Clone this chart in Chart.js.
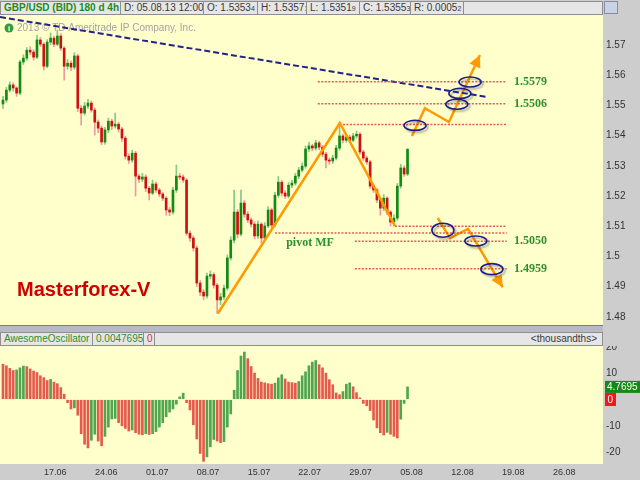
<!DOCTYPE html>
<html>
<head>
<meta charset="UTF-8">
<title>GBP/USD (BID) 180 d 4h</title>
<script src="https://cdn.jsdelivr.net/npm/chart.js"></script>
<style>
  body {
    margin: 0;
    width: 640px;
    height: 480px;
    position: relative;
    overflow: hidden;
    background: #cdcdcd;
    font-family: "Liberation Sans", Arial, sans-serif;
  }
  .strip {
    position: absolute;
    left: 0;
    width: 603px;
    height: 14px;
    box-sizing: border-box;
    background: #e6e6e6;
    border: 1px solid #8e8e8e;
    display: flex;
    font-size: 10px;
    line-height: 12px;
    color: #3a3a3a;
    z-index: 2;
  }
  .strip span {
    border-right: 1px solid #8e8e8e;
    padding-left: 3px;
    box-sizing: border-box;
    white-space: nowrap;
    overflow: hidden;
  }
  .strip small { font-size: 7px; }
  #head { top: 1px; }
  #oschead { top: 332px; }
  #pricebox { position: absolute; left: 0; top: 14px; width: 640px; height: 311px; }
  #oscbox { position: absolute; left: 0; top: 346px; width: 640px; height: 134px; }
  #split {
    position: absolute; left: 0; top: 325px; width: 603px; height: 7px;
    background: #b7bac4; border-top: 1px solid #7c7c84; box-sizing: border-box;
  }
  #icon {
    position: absolute; left: 604px; top: 1px; width: 14px; height: 13px;
    border: 1px solid #8a8aa8; background: #c9d3e6; box-sizing: border-box;
  }
</style>
</head>
<body>

<div id="head" class="strip">
  <span style="width:120px;color:#1c8c1c;font-weight:bold;">GBP/USD (BID) 180 d 4h</span>
  <span style="width:83px;">D: 05.08.13 12:00</span>
  <span style="width:54px;">O: 1.5353<small>4</small></span>
  <span style="width:49px;">H: 1.5357<small>1</small></span>
  <span style="width:53px;">L: 1.5351<small>9</small></span>
  <span style="width:51px;">C: 1.5355<small>3</small></span>
  <span style="width:53px;">R: 0.0005<small>2</small></span>
</div>
<div id="icon"></div>

<div id="pricebox"><canvas id="price" width="640" height="311"></canvas></div>
<div id="split"></div>

<div id="oschead" class="strip">
  <span style="width:92px;color:#2f8f2f;">AwesomeOscillator</span>
  <span style="width:51px;color:#2f8f2f;">0.0047695</span>
  <span style="width:11px;color:#e03030;">0</span>
  <span style="flex:1;border-right:none;text-align:right;padding-right:5px;">&lt;thousandths&gt;</span>
</div>

<div id="oscbox"><canvas id="osc" width="640" height="134"></canvas></div>

<script>
  // 8h bars, index 0..119
  const open = [1.5505,1.5518,1.5551,1.5568,1.5558,1.5541,1.5644,1.5657,1.5683,1.5677,
    1.5660,1.5717,1.5703,1.5630,1.5710,1.5723,1.5703,1.5730,1.5690,1.5630,
    1.5640,1.5627,1.5664,1.5491,1.5475,1.5498,1.5508,1.5485,1.5445,1.5425,
    1.5379,1.5419,1.5448,1.5432,1.5438,1.5422,1.5392,1.5332,1.5319,1.5342,
    1.5266,1.5256,1.5263,1.5226,1.5210,1.5240,1.5220,1.5207,1.5193,1.5154,
    1.5147,1.5220,1.5266,1.5263,1.5253,1.5077,1.5061,1.5028,1.4912,1.4882,
    1.4869,1.4935,1.4940,1.4905,1.4856,1.4866,1.4895,1.4995,1.5054,1.5147,
    1.5074,1.5177,1.5140,1.5121,1.5107,1.5068,1.5107,1.5061,1.5101,1.5154,
    1.5104,1.5203,1.5246,1.5210,1.5200,1.5236,1.5243,1.5266,1.5286,1.5299,
    1.5356,1.5366,1.5359,1.5376,1.5362,1.5339,1.5319,1.5316,1.5326,1.5359,
    1.5399,1.5385,1.5395,1.5385,1.5399,1.5405,1.5346,1.5326,1.5313,1.5233,
    1.5220,1.5187,1.5160,1.5193,1.5147,1.5114,1.5127,1.5233,1.5293,1.5273];
  const close = [1.5518,1.5551,1.5568,1.5558,1.5541,1.5644,1.5657,1.5683,1.5677,1.5660,
    1.5717,1.5703,1.5630,1.5710,1.5723,1.5703,1.5730,1.5690,1.5630,1.5640,
    1.5627,1.5664,1.5491,1.5475,1.5498,1.5508,1.5485,1.5445,1.5425,1.5379,
    1.5419,1.5448,1.5432,1.5438,1.5422,1.5392,1.5332,1.5319,1.5342,1.5266,
    1.5256,1.5263,1.5226,1.5210,1.5240,1.5220,1.5207,1.5193,1.5154,1.5147,
    1.5220,1.5266,1.5263,1.5253,1.5077,1.5061,1.5028,1.4912,1.4882,1.4869,
    1.4935,1.4940,1.4905,1.4856,1.4866,1.4895,1.4995,1.5054,1.5147,1.5074,
    1.5177,1.5140,1.5121,1.5107,1.5068,1.5107,1.5061,1.5101,1.5154,1.5104,
    1.5203,1.5246,1.5210,1.5200,1.5236,1.5243,1.5266,1.5286,1.5299,1.5356,
    1.5366,1.5359,1.5376,1.5362,1.5339,1.5319,1.5316,1.5326,1.5359,1.5399,
    1.5385,1.5395,1.5385,1.5399,1.5405,1.5346,1.5326,1.5313,1.5233,1.5220,
    1.5187,1.5160,1.5193,1.5147,1.5114,1.5127,1.5233,1.5293,1.5273,1.5355];
  const high = [1.5530,1.5560,1.5578,1.5575,1.5562,1.5650,1.5668,1.5692,1.5695,1.5685,
    1.5733,1.5725,1.5708,1.5718,1.5740,1.5730,1.5750,1.5738,1.5695,1.5652,
    1.5648,1.5675,1.5670,1.5500,1.5510,1.5520,1.5515,1.5492,1.5452,1.5432,
    1.5428,1.5458,1.5455,1.5475,1.5445,1.5428,1.5398,1.5340,1.5352,1.5348,
    1.5272,1.5275,1.5270,1.5232,1.5253,1.5246,1.5226,1.5212,1.5198,1.5162,
    1.5230,1.5303,1.5275,1.5270,1.5258,1.5085,1.5068,1.5035,1.4920,1.4890,
    1.4945,1.4952,1.4946,1.4910,1.4878,1.4905,1.5005,1.5065,1.5220,1.5155,
    1.5220,1.5185,1.5148,1.5128,1.5115,1.5118,1.5112,1.5112,1.5165,1.5160,
    1.5212,1.5265,1.5252,1.5218,1.5245,1.5252,1.5275,1.5295,1.5310,1.5366,
    1.5378,1.5372,1.5385,1.5382,1.5368,1.5345,1.5326,1.5335,1.5368,1.5442,
    1.5405,1.5405,1.5402,1.5408,1.5415,1.5410,1.5352,1.5332,1.5318,1.5240,
    1.5226,1.5195,1.5205,1.5198,1.5152,1.5138,1.5242,1.5305,1.5300,1.5357];
  const low = [1.5490,1.5510,1.5545,1.5548,1.5530,1.5536,1.5636,1.5650,1.5668,1.5650,
    1.5655,1.5695,1.5617,1.5625,1.5702,1.5695,1.5698,1.5682,1.5584,1.5620,
    1.5615,1.5620,1.5480,1.5435,1.5468,1.5490,1.5478,1.5402,1.5410,1.5370,
    1.5372,1.5410,1.5420,1.5425,1.5412,1.5380,1.5322,1.5308,1.5312,1.5200,
    1.5245,1.5248,1.5215,1.5187,1.5205,1.5212,1.5198,1.5185,1.5137,1.5135,
    1.5140,1.5212,1.5255,1.5245,1.5070,1.5050,1.5018,1.4900,1.4870,1.4856,
    1.4862,1.4925,1.4895,1.4811,1.4840,1.4858,1.4888,1.4988,1.5045,1.5062,
    1.5068,1.5130,1.5112,1.5098,1.5058,1.5060,1.5045,1.5055,1.5095,1.5095,
    1.5098,1.5196,1.5200,1.5192,1.5194,1.5228,1.5236,1.5258,1.5280,1.5292,
    1.5348,1.5350,1.5352,1.5354,1.5330,1.5293,1.5305,1.5308,1.5320,1.5352,
    1.5376,1.5378,1.5378,1.5380,1.5392,1.5338,1.5318,1.5305,1.5225,1.5212,
    1.5178,1.5137,1.5152,1.5138,1.5101,1.5100,1.5120,1.5226,1.5265,1.5268];

  // Awesome Oscillator, thousandths
  const ao = [13.4,12.8,11.8,11.0,11.2,12.0,12.7,12.5,11.6,10.8,
    10.2,9.0,8.3,7.2,7.6,6.6,6.0,4.5,2.0,-1.2,
    -3.6,-3.2,-6.0,-13.0,-17.0,-18.4,-15.5,-13.2,-15.8,-17.6,
    -14.0,-10.5,-7.4,-7.2,-8.8,-10.0,-11.0,-12.0,-11.6,-12.6,
    -13.2,-13.4,-13.0,-13.3,-13.0,-12.2,-10.5,-8.8,-6.6,-4.8,
    -3.6,-1.8,1.0,2.4,-1.2,-4.0,-9.6,-15.0,-20.5,-23.5,
    -21.8,-18.0,-15.2,-15.8,-16.4,-16.0,-10.5,-5.5,3.5,11.0,
    16.5,18.0,15.5,12.5,10.0,8.0,6.6,6.3,6.0,5.8,
    6.2,8.2,9.4,7.8,6.6,6.4,6.2,6.8,9.0,10.5,
    12.8,14.2,14.8,13.2,12.0,10.0,7.5,5.6,2.5,1.8,
    3.0,5.8,6.3,4.8,2.6,0.6,-1.5,-2.4,-4.2,-7.8,
    -10.8,-12.6,-13.5,-12.5,-13.2,-14.0,-14.6,-7.5,-1.5,4.7695];

  const weekLabels = ['17.06','24.06','01.07','08.07','15.07','22.07','29.07','05.08','12.08','19.08','26.08'];
  const weekPos = [15.4, 30.4, 45.4, 60.3, 75.3, 90.2, 105.2, 120.2, 135.2, 150.1, 165.1];

  // drawn analysis
  const trendX = [-0.88, 142.4];
  const trendY = [1.5793, 1.5528];
  const swingX = [63.2, 99.1, 115.3];
  const swingY = [1.4811, 1.5442, 1.5101];
  const upX = [120.3, 124.1, 131.2, 140.3];
  const upY = [1.5399, 1.5491, 1.5445, 1.5667];
  const downX = [127.9, 131.5, 136.8, 147.0];
  const downY = [1.5127, 1.5061, 1.5091, 1.4898];
  const levelPrice = [1.5579, 1.5506, 1.5437, 1.5100, 1.5078, 1.5050, 1.4959];
  const levelFrom = [92.6, 92.6, 100, 115.3, 80, 103.5, 103.5];
  const levelTo = 148.2;
  const labelLevels = [1.5579, 1.5506, 1.5050, 1.4959];
  const labelX = 150.3;
  const ellX = [137.4, 134.4, 133.5, 121.2, 129.4, 139.1, 143.8];
  const ellY = [1.5578, 1.5540, 1.5504, 1.5434, 1.5087, 1.5051, 1.4958];
  const ellRy = [5, 5, 5, 5, 7, 5, 5.5];
  const pivotX = 90.3, pivotY = 1.5044;

  const xMin = -0.88, xMax = 176.5;
  const FONT = '"Liberation Sans", Arial, sans-serif';
  const idx = close.map((c, i) => i);

  const up = i => close[i] >= open[i];
  const pts = (xs, ys) => xs.map((x, i) => ({ x, y: ys[i] }));

  // keep the plot area flush with the canvas edges
  const fitRight = s => { s.width = 37; s.paddingTop = 0; s.paddingBottom = 0; };

  function lineSet(data, color, width, dash) {
    return { type: 'line', data, borderColor: color, borderWidth: width, borderDash: dash || [],
      pointRadius: 0, fill: false, tension: 0, order: 1 };
  }

  const priceDecor = {
    id: 'priceDecor',
    beforeDatasetsDraw(chart) {
      const { ctx, chartArea: a } = chart;
      ctx.save();
      ctx.fillStyle = '#ffffcc';
      ctx.fillRect(a.left, a.top, a.right - a.left, a.bottom - a.top);
      // watermark
      ctx.fillStyle = '#2e9e3e';
      ctx.beginPath(); ctx.arc(9, 14, 4.5, 0, Math.PI * 2); ctx.fill();
      ctx.fillStyle = '#fff';
      ctx.font = 'bold 8px ' + FONT;
      ctx.textAlign = 'center'; ctx.textBaseline = 'middle';
      ctx.fillText('i', 9, 14.5);
      ctx.fillStyle = '#a4a4a4';
      ctx.font = '10px ' + FONT;
      ctx.textAlign = 'left';
      ctx.fillText('2013 \u00a9 TD Ameritrade IP Company, Inc.', 17, 14);
      ctx.fillStyle = '#d00000';
      ctx.font = 'bold 20px ' + FONT;
      ctx.fillText('Masterforex-V', 17, 276);
      ctx.restore();
    },
    afterDatasetsDraw(chart) {
      const { ctx } = chart;
      const sx = chart.scales.x, sy = chart.scales.y;
      ctx.save();
      // arrow heads
      ctx.fillStyle = '#ff9a00';
      [[upX, upY], [downX, downY]].forEach(([xs, ys]) => {
        const n = xs.length;
        const x1 = sx.getPixelForValue(xs[n - 2]), y1 = sy.getPixelForValue(ys[n - 2]);
        const x2 = sx.getPixelForValue(xs[n - 1]), y2 = sy.getPixelForValue(ys[n - 1]);
        const ang = Math.atan2(y2 - y1, x2 - x1);
        ctx.save();
        ctx.translate(x2, y2); ctx.rotate(ang);
        ctx.beginPath(); ctx.moveTo(0, 0); ctx.lineTo(-12, -6); ctx.lineTo(-12, 6); ctx.closePath(); ctx.fill();
        ctx.restore();
      });
      // ellipses
      ctx.strokeStyle = '#1c1c8c';
      ctx.lineWidth = 1.6;
      ctx.shadowColor = 'rgba(70,70,70,0.45)';
      ctx.shadowBlur = 2; ctx.shadowOffsetX = 2; ctx.shadowOffsetY = 2;
      ellX.forEach((x, i) => {
        ctx.beginPath();
        ctx.ellipse(sx.getPixelForValue(x), sy.getPixelForValue(ellY[i]), 11, ellRy[i], 0, 0, Math.PI * 2);
        ctx.stroke();
      });
      ctx.shadowColor = 'transparent';
      // level labels
      ctx.fillStyle = '#2f8f2f';
      ctx.font = 'bold 12px "Liberation Serif", "Times New Roman", serif';
      ctx.textBaseline = 'middle'; ctx.textAlign = 'left';
      labelLevels.forEach(v => ctx.fillText(v.toFixed(4), sx.getPixelForValue(labelX), sy.getPixelForValue(v)));
      ctx.textAlign = 'center';
      ctx.fillText('pivot MF', sx.getPixelForValue(pivotX), sy.getPixelForValue(pivotY));
      ctx.restore();
    }
  };

  new Chart(document.getElementById('price'), {
    type: 'bar',
    data: {
      datasets: [
        {
          data: idx.map(i => ({ x: i, y: [low[i], high[i]] })),
          barThickness: 1, grouped: false, order: 10,
          backgroundColor: c => up(c.dataIndex) ? '#86c886' : '#ee9a9a'
        },
        {
          data: idx.map(i => ({ x: i, y: [open[i], close[i]] })),
          barThickness: 2, grouped: false, order: 9, minBarLength: 1,
          backgroundColor: c => up(c.dataIndex) ? '#138a13' : '#cf1010'
        },
        ...levelPrice.map((p, i) => lineSet([{ x: levelFrom[i], y: p }, { x: levelTo, y: p }], 'rgba(222,62,62,0.85)', 1.5, [2, 1.5])),
        lineSet(pts(trendX, trendY), '#22228a', 2, [6, 3]),
        lineSet(pts(swingX, swingY), '#ff9a00', 2.5),
        lineSet(pts(upX, upY), '#ff9a00', 2.5),
        lineSet(pts(downX, downY), '#ff9a00', 2.5)
      ]
    },
    options: {
      animation: false, responsive: false, maintainAspectRatio: false,
      layout: { padding: 0, autoPadding: false },
      plugins: { legend: { display: false }, tooltip: { enabled: false } },
      scales: {
        x: { type: 'linear', min: xMin, max: xMax, offset: false, display: false },
        y: {
          position: 'right', min: 1.4773, max: 1.5803,
          afterFit: fitRight,
          grid: { display: false, drawTicks: false },
          border: { display: false },
          ticks: {
            stepSize: 0.01, includeBounds: false, padding: 3, color: '#333',
            font: { size: 10, family: FONT },
            callback: v => v > 1.5795 ? null : String(Math.round(v * 100) / 100)
          }
        }
      }
    },
    plugins: [priceDecor]
  });

  const oscDecor = {
    id: 'oscDecor',
    beforeDatasetsDraw(chart) {
      const { ctx, chartArea: a } = chart;
      ctx.save();
      ctx.fillStyle = '#ffffcc';
      ctx.fillRect(a.left, a.top, a.right - a.left, a.bottom - a.top);
      ctx.restore();
    },
    afterDraw(chart) {
      const { ctx, chartArea: a } = chart;
      const sy = chart.scales.y;
      ctx.save();
      ctx.font = '10px ' + FONT;
      ctx.textBaseline = 'middle'; ctx.textAlign = 'left';
      const last = ao[ao.length - 1];
      let y = sy.getPixelForValue(last);
      ctx.fillStyle = '#138a13';
      ctx.fillRect(a.right + 2, y - 6, 35, 12);
      ctx.fillStyle = '#fff';
      ctx.fillText(last.toFixed(4), a.right + 4, y + 0.5);
      y = sy.getPixelForValue(0);
      ctx.fillStyle = '#f01818';
      ctx.fillRect(a.right + 2, y - 6.5, 11, 13);
      ctx.fillStyle = '#fff';
      ctx.fillText('0', a.right + 4.5, y + 0.5);
      ctx.restore();
    }
  };

  new Chart(document.getElementById('osc'), {
    type: 'bar',
    data: {
      datasets: [{
        data: idx.map(i => ({ x: i, y: ao[i] })),
        barThickness: 2, grouped: false,
        backgroundColor: c => (c.dataIndex > 0 && ao[c.dataIndex] > ao[c.dataIndex - 1]) ? '#4fa64f' : '#e55a4c'
      }]
    },
    options: {
      animation: false, responsive: false, maintainAspectRatio: false,
      layout: { padding: 0, autoPadding: false },
      plugins: { legend: { display: false }, tooltip: { enabled: false } },
      scales: {
        x: {
          type: 'linear', min: xMin, max: xMax, offset: false,
          afterBuildTicks: s => { s.ticks = weekPos.map(v => ({ value: v })); },
          afterFit: s => { s.height = 16; s.paddingLeft = 0; s.paddingRight = 0; },
          grid: { display: false, drawTicks: false },
          border: { display: false },
          ticks: {
            autoSkip: false, maxRotation: 0, padding: 3, color: '#333',
            font: { size: 9, family: FONT },
            callback: v => weekLabels[weekPos.indexOf(v)]
          }
        },
        y: {
          position: 'right', min: -24.5, max: 20.3,
          afterFit: fitRight,
          grid: { drawTicks: false, lineWidth: 1.5, color: c => c.tick && c.tick.value === 0 ? '#f07a66' : 'transparent' },
          border: { display: false },
          ticks: { stepSize: 10, includeBounds: false, padding: 3, color: '#333', font: { size: 10, family: FONT } }
        }
      }
    },
    plugins: [oscDecor]
  });
</script>
</body>
</html>
